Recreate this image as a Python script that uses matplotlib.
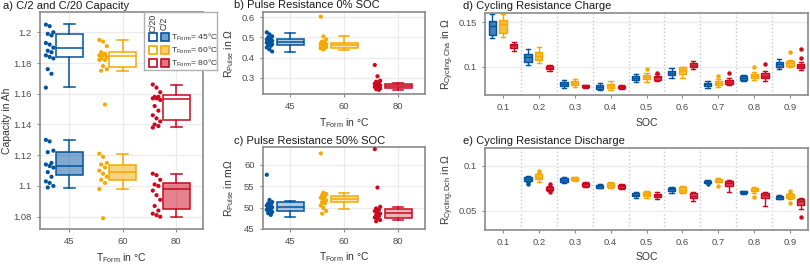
import matplotlib.pyplot as plt
from matplotlib.colors import to_rgba
from matplotlib.patches import Rectangle
from matplotlib.ticker import FuncFormatter

plt.rcParams['font.family'] = ['Liberation Sans', 'DejaVu Sans']
plt.rcParams['mathtext.fontset'] = 'custom'
plt.rcParams['mathtext.rm'] = 'Liberation Sans'
plt.rcParams['mathtext.it'] = 'Liberation Sans:italic'

# colours (blue / yellow / red for 45 / 60 / 80 °C)
temp_colors = ['#00549F', '#F6A800', '#CC071E']
temps = ['45', '60', '80']
soc_labels = ['0.1', '0.2', '0.3', '0.4', '0.5', '0.6', '0.7', '0.8', '0.9']

# ---- a) capacity: single cells ----
c20_45 = [1.205, 1.204, 1.200, 1.199, 1.198, 1.193, 1.192, 1.190, 1.188, 1.187, 1.185, 1.184, 1.183, 1.176, 1.173, 1.164]
c20_60 = [1.195, 1.194, 1.191, 1.187, 1.186, 1.185, 1.185, 1.184, 1.183, 1.182, 1.182, 1.178, 1.176, 1.175, 1.153]
c20_80 = [1.166, 1.164, 1.161, 1.158, 1.158, 1.157, 1.157, 1.156, 1.152, 1.149, 1.146, 1.144, 1.142, 1.140, 1.139, 1.138]
c2_45 = [1.130, 1.129, 1.123, 1.122, 1.115, 1.114, 1.113, 1.112, 1.109, 1.106, 1.103, 1.102, 1.100, 1.099]
c2_60 = [1.121, 1.119, 1.115, 1.114, 1.112, 1.110, 1.108, 1.106, 1.104, 1.102, 1.098, 1.079]
c2_80 = [1.108, 1.107, 1.104, 1.101, 1.100, 1.097, 1.094, 1.091, 1.087, 1.084, 1.082, 1.081, 1.080]
# box stats: [whislo, q1, med, q3, whishi]
c20_box = [[1.1646, 1.1839, 1.1898, 1.1987, 1.2056],
           [1.1748, 1.1772, 1.1848, 1.1870, 1.1950],
           [1.1384, 1.1430, 1.1564, 1.1592, 1.1659]]
c2_box = [[1.0990, 1.1072, 1.1132, 1.1224, 1.1300],
          [1.0978, 1.1037, 1.1091, 1.1137, 1.1210],
          [1.0796, 1.0848, 1.0978, 1.1022, 1.1078]]

# ---- b) pulse resistance 0% SOC ----
r0_45 = [0.525, 0.515, 0.505, 0.500, 0.495, 0.490, 0.487, 0.483, 0.480, 0.477, 0.474, 0.470, 0.466, 0.462, 0.458, 0.450, 0.440, 0.430]
r0_60 = [0.603, 0.505, 0.490, 0.480, 0.475, 0.470, 0.468, 0.465, 0.462, 0.460, 0.457, 0.455, 0.452, 0.450, 0.447, 0.445, 0.440]
r0_80 = [0.363, 0.307, 0.285, 0.280, 0.275, 0.270, 0.266, 0.262, 0.260, 0.257, 0.254, 0.250, 0.247, 0.243, 0.240]
r0_box = [[0.428, 0.462, 0.475, 0.490, 0.520],
          [0.437, 0.445, 0.462, 0.473, 0.508],
          [0.240, 0.250, 0.259, 0.270, 0.272]]

# ---- c) pulse resistance 50% SOC (mOhm) ----
r50_45 = [57.7, 51.8, 51.3, 51.0, 50.7, 50.5, 50.3, 50.1, 49.9, 49.7, 49.5, 49.2, 49.0, 48.7, 48.3]
r50_60 = [62.7, 53.5, 53.2, 52.9, 52.6, 52.3, 52.0, 51.7, 51.3, 51.0, 50.5, 49.9, 49.2, 48.6]
r50_80 = [63.7, 54.7, 50.2, 49.8, 49.5, 49.2, 48.9, 48.6, 48.3, 48.0, 47.7, 47.4, 47.1, 46.8]
r50_box = [[47.9, 49.3, 50.2, 51.25, 51.6],
           [49.6, 51.25, 52.1, 52.8, 53.4],
           [47.1, 47.5, 48.7, 49.6, 50.2]]

# ---- d) cycling resistance charge: [whislo, q1, med, q3, whishi] per SOC ----
cha_45 = [[0.132, 0.136, 0.146, 0.152, 0.159], [0.1015, 0.105, 0.111, 0.114, 0.120],
          [0.076, 0.078, 0.080, 0.0827, 0.085], [0.0737, 0.0744, 0.0767, 0.079, 0.0812],
          [0.0831, 0.085, 0.0876, 0.0898, 0.0921], [0.0876, 0.0906, 0.0932, 0.0955, 0.0981],
          [0.0763, 0.0778, 0.080, 0.082, 0.0842], [0.0838, 0.085, 0.0876, 0.0895, 0.0906],
          [0.0974, 0.100, 0.103, 0.1056, 0.1086]]
cha_60 = [[0.133, 0.138, 0.148, 0.153, 0.159], [0.104, 0.1075, 0.112, 0.116, 0.122],
          [0.0767, 0.079, 0.0812, 0.0835, 0.0857], [0.0737, 0.0756, 0.0782, 0.0805, 0.0835],
          [0.0831, 0.0861, 0.0887, 0.091, 0.0925], [0.0876, 0.0917, 0.0962, 0.0992, 0.100],
          [0.0767, 0.079, 0.0812, 0.0835, 0.0857], [0.0846, 0.0868, 0.0891, 0.0917, 0.094],
          [0.100, 0.1011, 0.1045, 0.1064, 0.1075]]
cha_80 = [[0.118, 0.121, 0.124, 0.126, 0.128], [0.0955, 0.097, 0.099, 0.1005, 0.1015],
          [0.0763, 0.0771, 0.0782, 0.079, 0.0793], [0.0752, 0.076, 0.0771, 0.0782, 0.079],
          [0.0835, 0.0853, 0.088, 0.0898, 0.0917], [0.097, 0.0992, 0.1019, 0.1045, 0.1068],
          [0.079, 0.0805, 0.0827, 0.085, 0.0872], [0.0842, 0.0868, 0.0895, 0.0925, 0.0947],
          [0.0962, 0.0981, 0.1008, 0.103, 0.1049]]
cha_45_out = [[], [], [], [], [], [], [], [], []]
cha_60_out = [[], [], [], [], [0.0974], [], [0.0898], [0.100], [0.1169]]
cha_80_out = [[], [], [], [], [0.0932], [], [0.0925], [0.103], [0.1195, 0.1094]]

# ---- e) cycling resistance discharge (no value at SOC 0.1) ----
dch_45 = [None, [0.0824, 0.0835, 0.0857, 0.0875, 0.0886], [0.0812, 0.0824, 0.0842, 0.086, 0.0871],
          [0.075, 0.0757, 0.0772, 0.0787, 0.0794], [0.0647, 0.0662, 0.0676, 0.0695, 0.0706],
          [0.0702, 0.0717, 0.0739, 0.0757, 0.0768], [0.0805, 0.0812, 0.0824, 0.0835, 0.0842],
          [0.0691, 0.0699, 0.071, 0.0721, 0.0724], [0.0629, 0.0636, 0.0651, 0.0665, 0.0673]]
dch_60 = [None, [0.0824, 0.0853, 0.0879, 0.0904, 0.0915], [0.0831, 0.0842, 0.0857, 0.0871, 0.0879],
          [0.0754, 0.0768, 0.0787, 0.0805, 0.0824], [0.0647, 0.0669, 0.0688, 0.071, 0.0717],
          [0.0702, 0.0713, 0.0735, 0.0761, 0.078], [0.0816, 0.0816, 0.0835, 0.0853, 0.086],
          [0.0702, 0.0717, 0.0732, 0.075, 0.0761], [0.0629, 0.0643, 0.0662, 0.0688, 0.0695]]
dch_80 = [None, [0.0721, 0.0732, 0.0746, 0.0765, 0.0776], [0.0765, 0.078, 0.0794, 0.0809, 0.0816],
          [0.0746, 0.0757, 0.0772, 0.079, 0.0798], [0.0636, 0.0658, 0.0676, 0.0691, 0.0706],
          [0.0614, 0.064, 0.0669, 0.0695, 0.0706], [0.0706, 0.078, 0.0805, 0.0835, 0.0842],
          [0.0555, 0.0643, 0.068, 0.0699, 0.0713], [0.0522, 0.0563, 0.061, 0.0632, 0.0647]]
dch_45_out = [[], [0.0801], [], [], [], [], [0.0794], [], []]
dch_60_out = [[], [0.0945], [], [], [], [], [0.078], [0.0651], [0.0724, 0.0585]]
dch_80_out = [[], [0.0794, 0.0706], [], [], [], [], [], [], [0.0438]]

W, H = 810, 265
TICK_FS = 6.8
LABEL_FS = 7.5
TITLE_FS = 8.0
LAB_COL = '#333333'


def px_box(l, t, r, b):
    return [l / W, 1 - b / H, (r - l) / W, (b - t) / H]


def make_stats(rows, outs=None):
    stats = []
    for i, r in enumerate(rows):
        stats.append(dict(whislo=r[0], q1=r[1], med=r[2], q3=r[3], whishi=r[4],
                          fliers=(outs[i] if outs else [])))
    return stats


def draw_box(ax, stats, positions, color, width, capw, face, lw=1.1, ms=3):
    ax.bxp(stats, positions=positions, widths=width, capwidths=capw, patch_artist=True,
           showfliers=True, manage_ticks=False,
           boxprops=dict(facecolor=face, edgecolor=color, linewidth=lw),
           medianprops=dict(color=color, linewidth=lw),
           whiskerprops=dict(color=color, linewidth=lw),
           capprops=dict(color=color, linewidth=lw),
           flierprops=dict(marker='o', markerfacecolor=color, markeredgecolor='none',
                           markersize=ms, linestyle='none'))


def jitter_points(ax, pos, values, color, offset=-0.37, spread=0.07, s=9):
    n = len(values)
    xs = [pos + offset + spread * (((i * 7) % 5) / 2.0 - 1.0) for i in range(n)]
    ax.scatter(xs, values, s=s, color=color, edgecolors='none', zorder=3)


def style(ax, vgrid=True):
    for sp in ax.spines.values():
        sp.set_color('#8a8a8a')
        sp.set_linewidth(1.2)
    ax.tick_params(colors='#8a8a8a', labelcolor='#4d4d4d', labelsize=TICK_FS, length=2.5, width=0.8)
    ax.yaxis.grid(True, color='#ebebeb', linewidth=0.9)
    if vgrid:
        ax.xaxis.grid(True, color='#ebebeb', linewidth=0.9)
    ax.set_axisbelow(True)
    ax.yaxis.set_major_formatter(FuncFormatter(lambda v, p: f'{v:g}'))


fig = plt.figure(figsize=(W / 100, H / 100), dpi=100)
tform = r'$\mathrm{T_{Form}}$ in °C'

# ---------------- a ----------------
ax_a = fig.add_axes(px_box(40, 12, 203, 229))
style(ax_a)
for i, (pts20, pts2, col) in enumerate(zip([c20_45, c20_60, c20_80], [c2_45, c2_60, c2_80], temp_colors)):
    jitter_points(ax_a, i + 1, pts20, col)
    jitter_points(ax_a, i + 1, pts2, col)
    draw_box(ax_a, make_stats([c20_box[i]]), [i + 1], col, 0.5, 0.2, 'white')
    draw_box(ax_a, make_stats([c2_box[i]]), [i + 1], col, 0.5, 0.2, to_rgba(col, 0.5))
ax_a.set_xlim(0.45, 3.5)
ax_a.set_ylim(1.072, 1.2132)
ax_a.set_xticks([1, 2, 3], temps)
ax_a.set_yticks([1.08, 1.1, 1.12, 1.14, 1.16, 1.18, 1.2])
ax_a.set_ylabel('Capacity in Ah', fontsize=LABEL_FS, color=LAB_COL)
ax_a.yaxis.set_label_coords(-0.172, 0.5)
ax_a.set_xlabel(tform, fontsize=LABEL_FS, color=LAB_COL, va='center')
ax_a.xaxis.set_label_coords(0.5, -0.134)

# legend of panel a
lax = fig.add_axes(px_box(144, 12, 217, 70))
lax.set_xlim(144, 217)
lax.set_ylim(70, 12)
lax.set_xticks([])
lax.set_yticks([])
for sp in lax.spines.values():
    sp.set_color('#b0b0b0')
    sp.set_linewidth(1.0)
lax.text(153, 23, 'C/20', rotation=90, ha='center', va='center', fontsize=6.2, color=LAB_COL)
lax.text(164.5, 23, 'C/2', rotation=90, ha='center', va='center', fontsize=6.2, color=LAB_COL)
for yc, col, t in zip([37, 50, 63], temp_colors, temps):
    lax.add_patch(Rectangle((149, yc - 4), 8, 8, facecolor='white', edgecolor=col, linewidth=1.2))
    lax.add_patch(Rectangle((160.5, yc - 4), 8, 8, facecolor=to_rgba(col, 0.55), edgecolor=col, linewidth=1.2))
    lax.text(170.5, yc, r'$\mathrm{T_{Form}}$= ' + t + '°C', va='center', ha='left', fontsize=6.1, color=LAB_COL)

# ---------------- b ----------------
ax_b = fig.add_axes(px_box(263, 12, 425, 94))
style(ax_b)
for i, (pts, col) in enumerate(zip([r0_45, r0_60, r0_80], temp_colors)):
    jitter_points(ax_b, i + 1, pts, col, offset=-0.38, spread=0.05)
    draw_box(ax_b, make_stats([r0_box[i]]), [i + 1], col, 0.5, 0.2, to_rgba(col, 0.3))
ax_b.set_xlim(0.5, 3.5)
ax_b.set_ylim(0.219, 0.626)
ax_b.set_xticks([1, 2, 3], temps)
ax_b.set_yticks([0.3, 0.4, 0.5, 0.6])
ax_b.set_ylabel(r'$\mathrm{R_{Pulse}}$ in Ω', fontsize=LABEL_FS, color=LAB_COL)
ax_b.yaxis.set_label_coords(-0.165, 0.5)
ax_b.set_xlabel(tform, fontsize=LABEL_FS, color=LAB_COL, va='center')
ax_b.xaxis.set_label_coords(0.5, -0.354)

# ---------------- c ----------------
ax_c = fig.add_axes(px_box(263, 147, 425, 229))
style(ax_c)
for i, (pts, col) in enumerate(zip([r50_45, r50_60, r50_80], temp_colors)):
    jitter_points(ax_c, i + 1, pts, col, offset=-0.38, spread=0.05)
    draw_box(ax_c, make_stats([r50_box[i]]), [i + 1], col, 0.5, 0.2, to_rgba(col, 0.3))
ax_c.set_xlim(0.5, 3.5)
ax_c.set_ylim(45, 64.2)
ax_c.set_xticks([1, 2, 3], temps)
ax_c.set_yticks([45, 50, 55, 60])
ax_c.set_ylabel(r'$\mathrm{R_{Pulse}}$ in mΩ', fontsize=LABEL_FS, color=LAB_COL)
ax_c.yaxis.set_label_coords(-0.165, 0.5)
ax_c.set_xlabel(tform, fontsize=LABEL_FS, color=LAB_COL, va='center')
ax_c.xaxis.set_label_coords(0.5, -0.341)

# ---------------- d / e ----------------
offsets = [-0.3, 0.0, 0.3]


def soc_panel(ax, groups, outs):
    style(ax, vgrid=False)
    for k in range(1, 9):
        ax.axvline(k + 0.5, color='#c8c8c8', linestyle=':', linewidth=1.0, zorder=0)
    for g, (rows, out, col) in enumerate(zip(groups, outs, temp_colors)):
        idx = [j for j, r in enumerate(rows) if r is not None]
        stats = make_stats([rows[j] for j in idx], [out[j] for j in idx])
        draw_box(ax, stats, [j + 1 + offsets[g] for j in idx], col, 0.2, 0.12,
                 to_rgba(col, 0.75), lw=1.0, ms=3.2)
    ax.set_xlim(0.5, 9.5)
    ax.set_xticks(range(1, 10), soc_labels)
    ax.set_xlabel('SOC', fontsize=LABEL_FS, color=LAB_COL, va='center')


ax_d = fig.add_axes(px_box(485, 13, 808, 95))
soc_panel(ax_d, [cha_45, cha_60, cha_80], [cha_45_out, cha_60_out, cha_80_out])
ax_d.set_ylim(0.068, 0.1605)
ax_d.set_yticks([0.1, 0.15])
ax_d.set_ylabel(r'$\mathrm{R_{Cycling,Cha}}$ in Ω', fontsize=LABEL_FS, color=LAB_COL)
ax_d.yaxis.set_label_coords(-0.09, 0.5)
ax_d.xaxis.set_label_coords(0.5, -0.341)

ax_e = fig.add_axes(px_box(485, 148, 808, 230))
soc_panel(ax_e, [dch_45, dch_60, dch_80], [dch_45_out, dch_60_out, dch_80_out])
ax_e.set_ylim(0.029, 0.1195)
ax_e.set_yticks([0.05, 0.1])
ax_e.set_ylabel(r'$\mathrm{R_{Cycling,Dch}}$ in Ω', fontsize=LABEL_FS, color=LAB_COL)
ax_e.yaxis.set_label_coords(-0.09, 0.5)
ax_e.xaxis.set_label_coords(0.5, -0.329)

# panel titles
for x, y, t in [(3, 6, 'a) C/2 and C/20 Capacity'), (234, 5, 'b) Pulse Resistance 0% SOC'),
                (234, 141.5, 'c) Pulse Resistance 50% SOC'), (463, 6, 'd) Cycling Resistance Charge'),
                (463, 141.5, 'e) Cycling Resistance Discharge')]:
    fig.text(x / W, 1 - y / H, t, fontsize=TITLE_FS, ha='left', va='center', color='#1a1a1a')

fig.savefig('out.png', dpi=100)
